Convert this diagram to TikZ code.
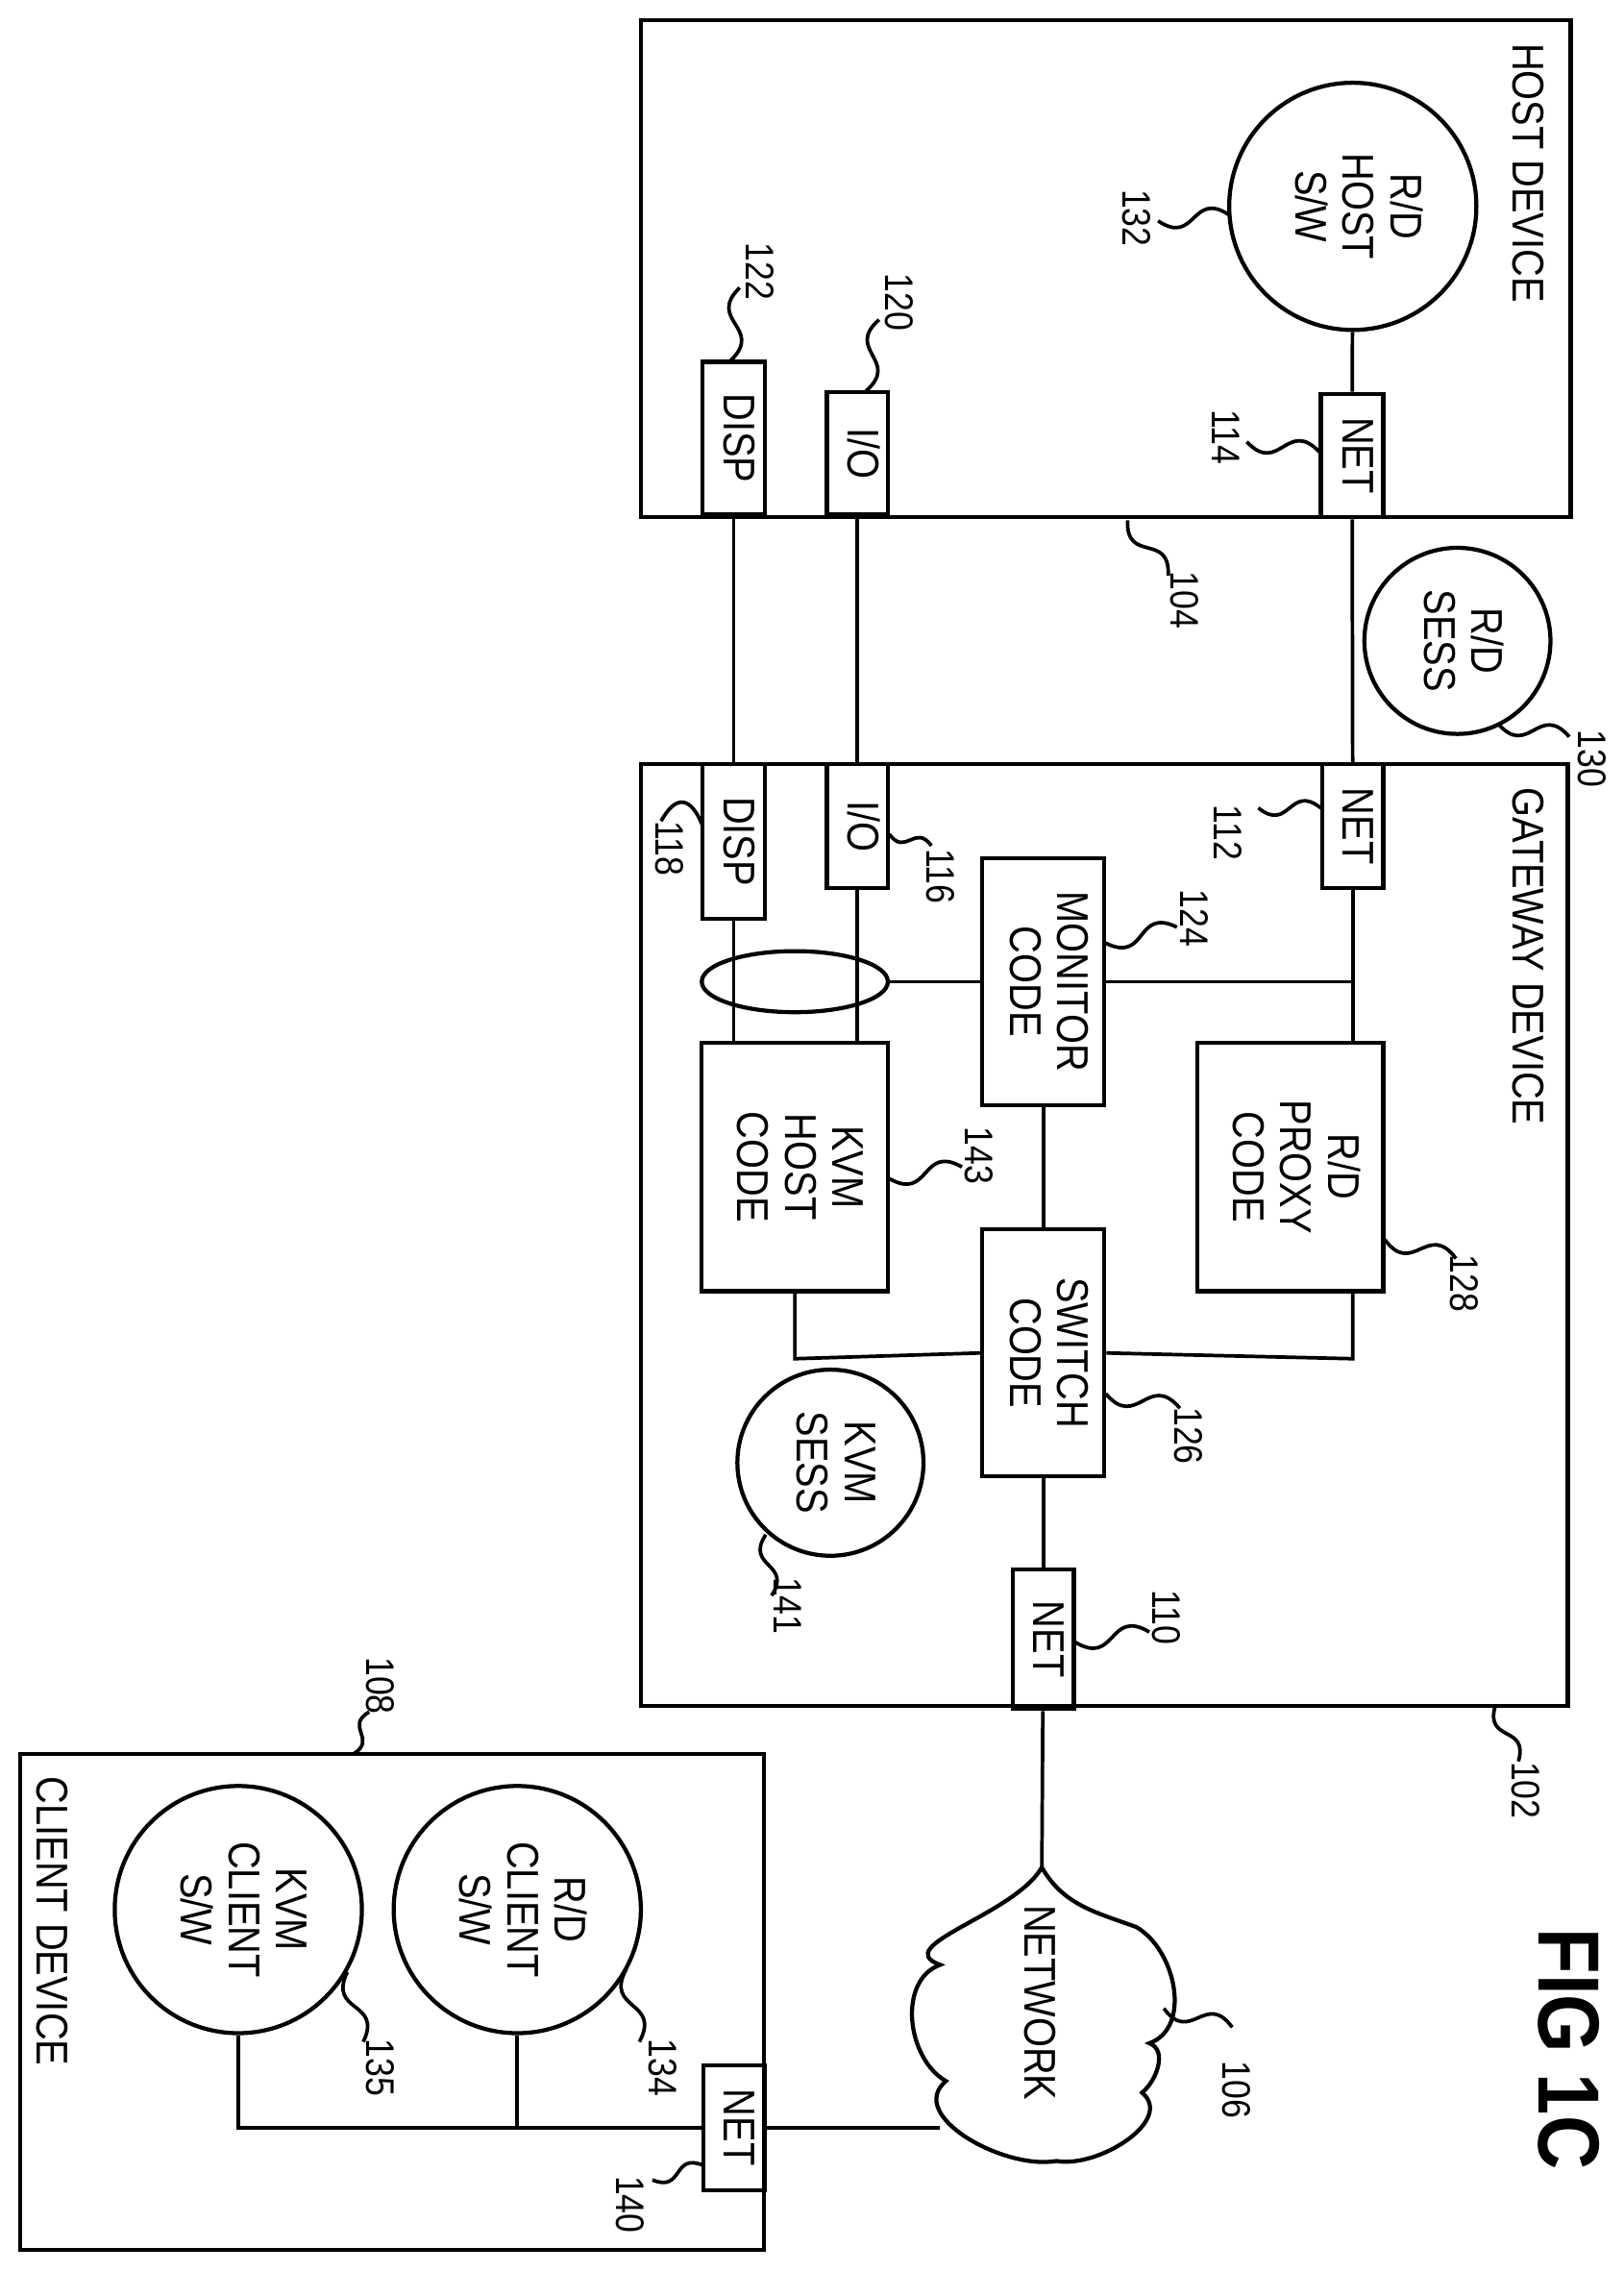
\documentclass[tikz,border=0pt]{standalone}
\usepackage{fontspec}
\setmainfont{Liberation Sans}[FakeStretch=0.86]
\usetikzlibrary{calc,shapes.geometric,positioning}

\newcommand{\txtfont}{\fontsize{8.7}{9.3}\selectfont}
\newcommand{\numfont}{\fontsize{7.8}{9}\selectfont}
\newcommand{\vtext}[1]{\rotatebox{-90}{\begin{tabular}{@{}c@{}}#1\end{tabular}}}
% wavy leader from (a) to (b)
\def\lead(#1)(#2){%
  \path ($(#1)!0.5!(#2)$) coordinate (m);
  \draw[lead] (#1) .. controls ($(m)!0.8!90:(#1)$) and ($(m)!0.8!90:(#2)$) .. (#2);}

\tikzset{
  box/.style 2 args={draw, line width=0.8pt, minimum width=#1, minimum height=#2,
    inner sep=0pt, font=\txtfont},
  sw/.style={draw, circle, line width=0.8pt, minimum size=#1, inner sep=0pt, font=\txtfont},
  num/.style={font=\numfont, rotate=-90, inner sep=0pt},
  lead/.style={line width=0.7pt},
  wire/.style={line width=0.7pt}
}

\begin{document}
\begin{tikzpicture}[x=0.01cm, y=-0.01cm, line width=0.8pt]
  \useasboundingbox (0,0) rectangle (1117,1563.4);

  % host device
  \draw (441,14) rectangle (1081,356);
  \node[rotate=-90, font=\txtfont] (hostlbl) at (1052,119) {HOST DEVICE};
  \node[sw=1.7cm] (rdhost) at (931,142) {\vtext{R/D\\HOST\\S/W}};
  \node[box={0.43cm}{0.85cm}] (net114) at (930.5,313.5) {\vtext{NET}};
  \node[box={0.42cm}{0.84cm}] (io120) at (590,312) {\vtext{I/O}};
  \node[box={0.43cm}{1.05cm}] (disp122) at (505,301.5) {\vtext{DISP}};

  % session
  \node[sw=1.28cm] (rdsess) at (1003,441) {\vtext{R/D\\SESS}};

  % gateway device
  \draw (441,526) rectangle (1079,1174);
  \node[rotate=-90, font=\txtfont] (gwlbl) at (1052,658) {GATEWAY DEVICE};
  \node[box={0.42cm}{0.85cm}] (net112) at (931,568.5) {\vtext{NET}};
  \node[box={0.42cm}{0.85cm}] (io116) at (590,568.5) {\vtext{I/O}};
  \node[box={0.43cm}{1.06cm}] (disp118) at (505,579) {\vtext{DISP}};
  \node[draw, ellipse, line width=0.8pt, minimum width=1.28cm, minimum height=0.42cm,
    inner sep=0pt] (bundle) at (547,675.5) {};
  \node[box={0.84cm}{1.70cm}] (monitor) at (718,675.5) {\vtext{MONITOR\\CODE}};
  \node[box={1.28cm}{1.71cm}] (kvmhost) at (547,803) {\vtext{KVM\\HOST\\CODE}};
  \node[box={1.28cm}{1.71cm}] (proxy) at (888,803) {\vtext{R/D\\PROXY\\CODE}};
  \node[box={0.84cm}{1.70cm}] (switch) at (718,931) {\vtext{SWITCH\\CODE}};
  \node[sw=1.28cm] (kvmsess) at (571.5,1006.5) {\vtext{KVM\\SESS}};
  \node[box={0.42cm}{0.96cm}] (net110) at (718,1128) {\vtext{NET}};

  % network
  \coordinate (cloudtop) at (717,1285);
  \coordinate (cloudleft) at (647,1464);
  \draw (cloudtop) to[out=-60,in=160] (782,1326) to[out=-30,in=20] (791,1406)
    to[out=-20,in=40] (786,1440) to[out=-40,in=-10] (727,1487)
    to[out=190,in=-140] (651,1432) to[out=150,in=-160] (647,1352)
    to[out=160,in=-120] cycle;
  \node[rotate=-90, font=\txtfont] (netlbl) at (716,1378) {NETWORK};

  % client device
  \draw (14,1207) rectangle (526,1548);
  \node[rotate=-90, font=\txtfont] (clientlbl) at (36,1322) {CLIENT DEVICE};
  \node[sw=1.7cm] (rdcl) at (356,1314) {\vtext{R/D\\CLIENT\\S/W}};
  \node[sw=1.7cm] (kvmcl) at (164,1314) {\vtext{KVM\\CLIENT\\S/W}};
  \node[box={0.42cm}{0.86cm}] (net140) at (505,1464) {\vtext{NET}};

  \node[rotate=-90, font=\bfseries\fontsize{17}{18}\selectfont] (fig) at (1080,1410) {FIG 1C};

  % wires
  \begin{scope}[wire]
    \draw (rdhost) -- (net114);
    \draw (net114) -- (net112);
    \draw (io120) -- (io116);
    \draw (disp122) -- (disp118);
    \draw (disp118.south) -- (disp118.south |- kvmhost.north);
    \draw (io116.south) -- (io116.south |- kvmhost.north);
    \draw (bundle) -- (monitor);
    \draw (monitor.east) -- (monitor.east -| net112);
    \draw (net112.south) -- (net112.south |- proxy.north);
    \draw (monitor) -- (switch);
    \draw (kvmhost.south) -- ++(0,45) -- (switch.west);
    \draw (proxy.south -| net112) -- ++(0,45) -- (switch.east);
    \draw (switch) -- (net110);
    \draw (net110) -- (cloudtop);
    \draw (cloudleft) -- (net140);
    \draw (net140.west) -- (net140.west -| kvmcl) -- (kvmcl);
    \draw (rdcl) -- (rdcl |- net140);
  \end{scope}

  % reference numerals
  \node[num] (n132) at (782,150) {132};
  \node[num] (n114) at (844,301) {114};
  \node[num] (n122) at (523,187) {122};
  \node[num] (n120) at (619,208) {120};
  \node[num] (n104) at (815,413) {104};
  \node[num] (n130) at (1096,522) {130};
  \node[num] (n112) at (845,573) {112};
  \node[num] (n116) at (647,603) {116};
  \node[num] (n118) at (461,584) {118};
  \node[num] (n124) at (822,632) {124};
  \node[num] (n143) at (674,795) {143};
  \node[num] (n128) at (1008,883) {128};
  \node[num] (n126) at (818,988) {126};
  \node[num] (n141) at (542,1105) {141};
  \node[num] (n110) at (803,1113) {110};
  \node[num] (n102) at (1050,1232) {102};
  \node[num] (n106) at (851,1438) {106};
  \node[num] (n108) at (262,1160) {108};
  \node[num] (n134) at (456,1423) {134};
  \node[num] (n135) at (262,1423) {135};
  \node[num] (n140) at (434,1517) {140};

  \lead(846,148)(797,152)
  \lead(908,311)(858,304)
  \lead(503,248)(509,198)
  \lead(596,269)(605,220)
  \lead(776,358)(804,396)
  \lead(1031,498)(1080,507)
  \lead(909,556)(866,556)
  \lead(612,574)(641,582)
  \draw[lead] (483,567) .. controls (476,550) and (466,545) .. (455,565);
  \lead(761,649)(810,638)
  \lead(612,811)(662,803)
  \lead(953,853)(1002,866)
  \lead(761,959)(812,969)
  \lead(527,1056)(531,1098)
  \lead(740,1130)(791,1123)
  \lead(1029,1174)(1045,1212)
  \lead(801,1382)(848,1395)
  \lead(243,1207)(254,1178)
  \lead(431,1355)(440,1405)
  \lead(239,1357)(250,1405)
  \lead(484,1490)(449,1500)
\end{tikzpicture}
\end{document}
